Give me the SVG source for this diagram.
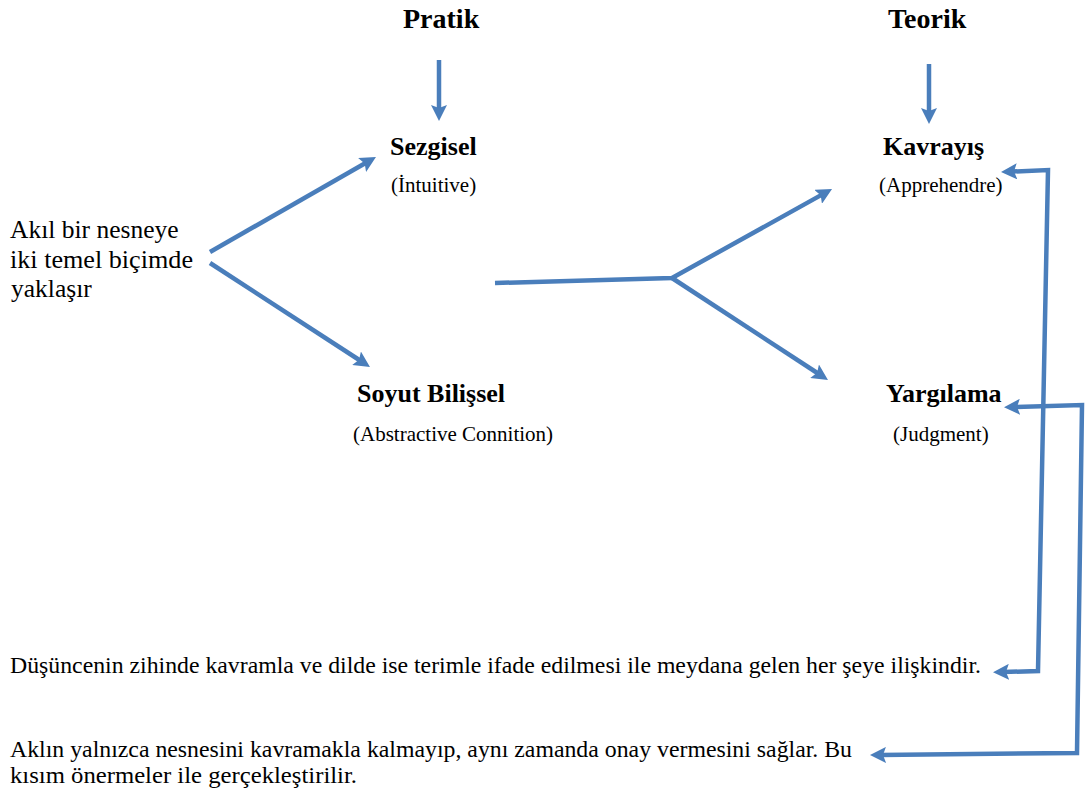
<svg xmlns="http://www.w3.org/2000/svg" width="1087" height="794" viewBox="0 0 1087 794">
<style>
text{font-family:"Liberation Serif","Times New Roman",serif;fill:#000}
.h{font-weight:bold;font-size:28px}
.b{font-weight:bold;font-size:26px}
.s{font-size:21px}
.t{font-size:25.5px}
.p{font-size:24px}
.c{fill:none;stroke:#4A7EBB;stroke-width:4.5;stroke-linejoin:miter}
</style>
<defs>
<marker id="ah" markerUnits="userSpaceOnUse" markerWidth="18" markerHeight="16" refX="6" refY="8" orient="auto-start-reverse" viewBox="0 0 18 16">
<path d="M0,0 L16,8 L0,16 L3,8 z" fill="#4A7EBB"/>
</marker>
</defs>
<rect width="1087" height="794" fill="#fff"/>
<g id="pratik"><text class="h" x="403" y="28">Pratik</text></g>
<g id="teorik"><text class="h" x="888" y="28">Teorik</text></g>
<g id="sezgisel">
<text class="b" x="390" y="155">Sezgisel</text>
<text class="s" x="391" y="192">(İntuitive)</text>
</g>
<g id="kavrayis">
<text class="b" x="883" y="155">Kavrayış</text>
<text class="s" x="879" y="192">(Apprehendre)</text>
</g>
<g id="akil">
<text class="t" x="10" y="238">Akıl bir nesneye</text>
<text class="t" x="10" y="268" textLength="183" lengthAdjust="spacingAndGlyphs">iki temel biçimde</text>
<text class="t" x="11" y="297">yaklaşır</text>
</g>
<g id="soyut">
<text class="b" x="357" y="402">Soyut Bilişsel</text>
<text class="s" x="353" y="441">(Abstractive Connition)</text>
</g>
<g id="yargilama">
<text class="b" x="886" y="402">Yargılama</text>
<text class="s" x="893" y="441">(Judgment)</text>
</g>
<g id="aciklama1">
<text class="p" x="10" y="673" textLength="971" lengthAdjust="spacingAndGlyphs">Düşüncenin zihinde kavramla ve dilde ise terimle ifade edilmesi ile meydana gelen her şeye ilişkindir.</text>
</g>
<g id="aciklama2">
<text class="p" x="10" y="757" textLength="842" lengthAdjust="spacingAndGlyphs">Aklın yalnızca nesnesini kavramakla kalmayıp, aynı zamanda onay vermesini sağlar. Bu</text>
<text class="p" x="10" y="783" textLength="347" lengthAdjust="spacingAndGlyphs">kısım önermeler ile gerçekleştirilir.</text>
</g>
<g id="connectors">
<path class="c" d="M439,60 L439,111" marker-end="url(#ah)"/>
<path class="c" d="M929,64 L929,114" marker-end="url(#ah)"/>
<path class="c" d="M210,252 L367.3,162" marker-end="url(#ah)"/>
<path class="c" d="M210,263 L361.6,361.5" marker-end="url(#ah)"/>
<path class="c" d="M495,283 L672,278 L823.3,193.9" marker-end="url(#ah)"/>
<path class="c" d="M672,278 L819.6,374.5" marker-end="url(#ah)"/>
<path class="c" d="M1011,171.6 L1048,170 L1038,671 L1003,672" marker-start="url(#ah)" marker-end="url(#ah)"/>
<path class="c" d="M1014,407 L1082,405 L1077,753 L880,755" marker-start="url(#ah)" marker-end="url(#ah)"/>
</g>
</svg>
